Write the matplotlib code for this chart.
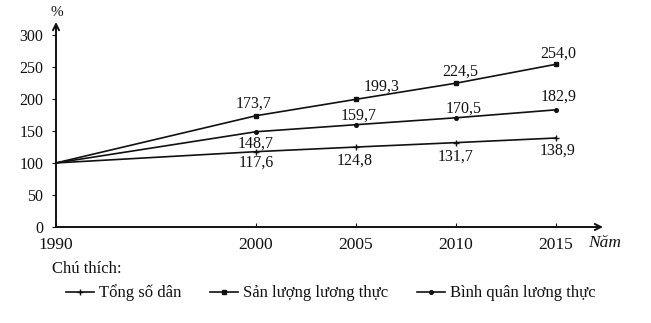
import matplotlib
matplotlib.use("Agg")
import matplotlib.pyplot as plt

plt.rcParams["font.family"] = ["Liberation Serif", "DejaVu Serif"]
plt.rcParams["font.size"] = 11

years = [1990, 2000, 2005, 2010, 2015]
dan_so = [100, 117.6, 124.8, 131.7, 138.9]          # Tong so dan
san_luong = [100, 173.7, 199.3, 224.5, 254.0]       # San luong luong thuc
binh_quan = [100, 148.7, 159.7, 170.5, 182.9]       # Binh quan luong thuc
series_names = ["Tổng số dân", "Sản lượng lương thực", "Bình quân lương thực"]
y_ticks = [0, 50, 100, 150, 200, 250, 300]

# label offsets in pixels (dx, dy) for each point, skipping 1990
offs_dan = [(0, -11), (-1, -14), (0, -14), (2, -13)]
offs_sl = [(-2, 12), (26, 13), (4, 12), (2, 11)]
offs_bq = [(0, -12), (3, 9), (8, 9), (3, 13)]

ink = "#111111"
W, H = 651, 323
fig = plt.figure(figsize=(W / 100, H / 100), dpi=100)
ax = fig.add_axes([56 / W, 1 - 227 / H, (603 - 56) / W, (227 - 22) / H])

styles = [
    (dan_so, dict(marker="+", markersize=4, markeredgewidth=1.0), offs_dan),
    (san_luong, dict(marker="s", markersize=2.8), offs_sl),
    (binh_quan, dict(marker="o", markersize=2.6), offs_bq),
]

handles = []
for (vals, mk, offs), name in zip(styles, series_names):
    ln, = ax.plot(years, vals, color=ink, linewidth=1.2, clip_on=False,
                  markevery=slice(1, None), **mk)
    handles.append(ln)
    for x, v, (dx, dy) in zip(years[1:], vals[1:], offs):
        ax.annotate(("%.1f" % v).replace(".", ","), (x, v),
                    xytext=(dx * 0.72, dy * 0.72), textcoords="offset points",
                    ha="center", va="center", fontsize=11.5, color=ink)

ax.set_xlim(1990, 2017.35)
ax.set_ylim(0, 320)
ax.set_xticks(years)
ax.set_yticks(y_ticks)
ax.tick_params(axis="x", direction="in", length=3, pad=7, labelsize=12.5, colors=ink)
ax.tick_params(axis="y", direction="out", length=3, pad=6, labelsize=11.5, colors=ink)
for s in ax.spines.values():
    s.set_visible(False)

# axes with arrows
ax.annotate("", xy=(0, 1), xytext=(0, 0), xycoords="axes fraction",
            arrowprops=dict(arrowstyle="->", color=ink, lw=1.4,
                            shrinkA=0, shrinkB=0))
ax.annotate("", xy=(1, 0), xytext=(0, 0), xycoords="axes fraction",
            arrowprops=dict(arrowstyle="->", color=ink, lw=1.4,
                            shrinkA=0, shrinkB=0))

fig.text(57 / W, 1 - 13 / H, "%", ha="center", va="center", fontsize=11, color=ink)
fig.text(588 / W, 1 - 243 / H, "Năm", ha="left", va="center", fontsize=12.5,
         style="italic", color=ink)
fig.text(52 / W, 1 - 269 / H, "Chú thích:", ha="left", va="center",
         fontsize=12, color=ink)

fig.legend(handles, series_names, loc="center left",
           bbox_to_anchor=(66 / W, 1 - 293 / H), ncol=3, frameon=False,
           borderpad=0, borderaxespad=0, handlelength=1.7, handletextpad=0.3,
           columnspacing=1.7, fontsize=12, labelcolor=ink)

fig.savefig("out.png", dpi=100)
